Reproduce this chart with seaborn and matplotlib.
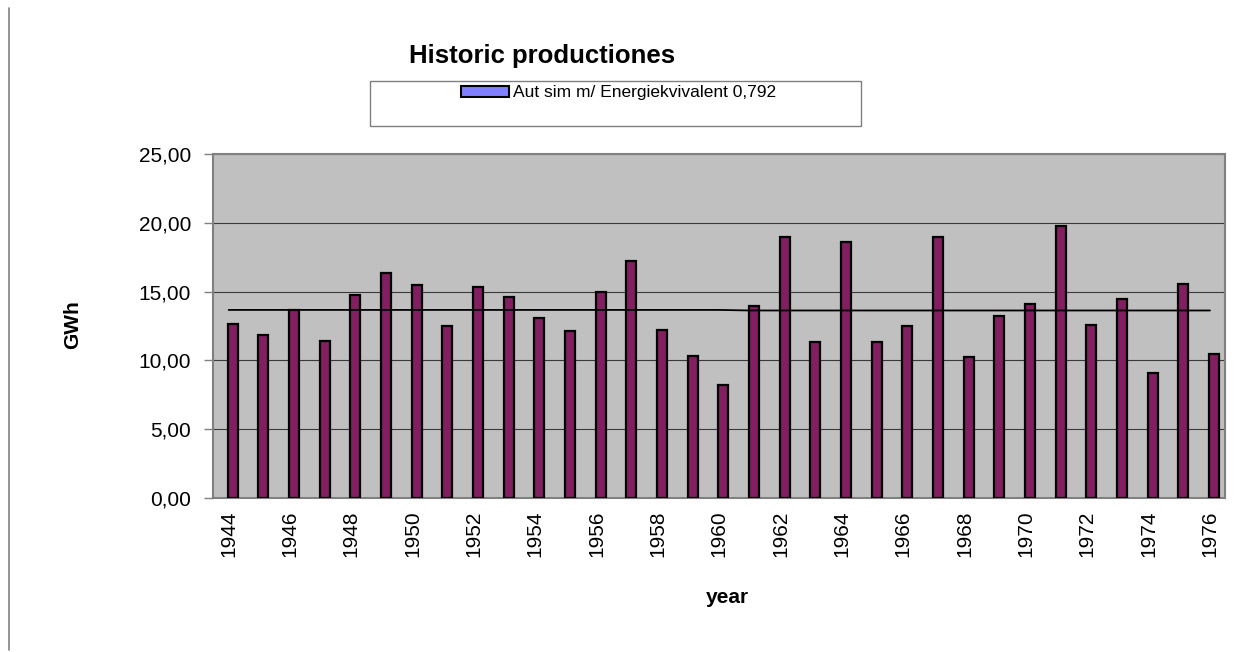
import numpy as np
import pandas as pd
import matplotlib
matplotlib.use("Agg")
import matplotlib.pyplot as plt
import matplotlib.transforms as mtransforms
from matplotlib.patches import Patch, Rectangle
from matplotlib.lines import Line2D
import seaborn as sns

# Annual production (GWh), 1944-1976
years = list(range(1944, 1977))
production = [12.68, 11.83, 13.63, 11.42, 14.76, 16.39, 15.52, 12.49, 15.32, 14.60,
              13.07, 12.10, 14.94, 17.24, 12.20, 10.28, 8.20, 13.99, 18.96, 11.32,
              18.60, 11.32, 12.49, 18.96, 10.23, 13.24, 14.07, 19.78, 12.54, 14.47,
              9.09, 15.54, 10.45]
# Average production line
average = [13.67] * 17 + [13.63] * 16
y_ticks = [0, 5, 10, 15, 20, 25]
series_name = "Aut sim m/ Energiekvivalent 0,792"

sns.set_theme(style="white")
plt.rcParams["font.family"] = ["Liberation Sans", "DejaVu Sans"]
plt.rcParams["text.color"] = "black"
plt.rcParams["axes.labelcolor"] = "black"
plt.rcParams["xtick.color"] = "black"
plt.rcParams["ytick.color"] = "black"

df = pd.DataFrame({"year": [str(y) for y in years], "GWh": production, "avg": average})

fig = plt.figure(figsize=(12.6, 6.52), dpi=100)
ax = fig.add_axes([213.3 / 1260, 1 - 497.7 / 652, 1012 / 1260, 343.4 / 652])
ax.set_facecolor("#c0c0c0")

sns.barplot(data=df, x="year", y="GWh", color="#821f60", width=0.33,
            edgecolor="black", linewidth=1.6, saturation=1, ax=ax, zorder=3)
# bars sit a little to the right of the category centre
shift = mtransforms.ScaledTranslation(4 / 100, 0, fig.dpi_scale_trans)
for p in ax.patches:
    p.set_transform(ax.transData + shift)

sns.pointplot(data=df, x="year", y="avg", color="black", markers="", linestyles="-",
              errorbar=None, ax=ax, zorder=4)
for ln in ax.lines:
    ln.set_linewidth(1.3)

ax.set_ylim(0, 25)
ax.set_xlim(-0.5, len(years) - 0.5)
ax.set_yticks(y_ticks)
ax.set_yticklabels([f"{v:.2f}".replace(".", ",") for v in y_ticks])
ax.yaxis.grid(True, color="#3a3a3a", linewidth=0.8, zorder=0)
ax.set_axisbelow(True)

idx = np.arange(0, len(years), 2)
ax.set_xticks(idx)
ax.set_xticklabels([str(years[i]) for i in idx], rotation=90)
ax.set_xticks(np.arange(-0.5, len(years), 1), minor=True)
ax.tick_params(axis="x", which="major", length=0, pad=9, labelsize=15, labelcolor="black")
ax.tick_params(axis="x", which="minor", length=6, width=1, color="#808080", direction="out")
ax.tick_params(axis="y", which="major", length=6.5, width=1, color="#808080",
               direction="out", pad=9.5, labelsize=15, left=True, labelcolor="black")
for s in ax.spines.values():
    s.set_visible(True)
    s.set_color("#808080")
    s.set_linewidth(1.5)

ax.set_xlabel("year", fontsize=15, fontweight="bold", color="black")
ax.xaxis.set_label_coords(0.5076, -0.262)
ax.set_ylabel("GWh", fontsize=15, fontweight="bold", color="black")
ax.yaxis.set_label_coords(-0.130, 0.503)

fig.text(541.7 / 1260, 1 - 63.3 / 652, "Historic productiones", ha="center",
         va="baseline", fontsize=18.5, fontweight="bold", color="black")

# legend frame
fig.patches.append(Rectangle((370 / 1260, 1 - 126 / 652), 491 / 1260, 45 / 652,
                             transform=fig.transFigure, facecolor="white",
                             edgecolor="#808080", linewidth=1))
leg = fig.legend(handles=[Patch(facecolor="#8080ff", edgecolor="black", linewidth=1.5)],
                 labels=[series_name], loc="center left",
                 bbox_to_anchor=(460.7 / 1260, 1 - 93 / 652), frameon=False,
                 fontsize=12.5, handlelength=2.8, handleheight=0.58, handletextpad=0.2,
                 borderpad=0, borderaxespad=0, labelcolor="black")

# page border at the left
fig.add_artist(Line2D([9 / 1260, 9 / 1260], [2 / 652, 1 - 8 / 652],
                      transform=fig.transFigure, color="#808080", linewidth=1.2))

fig.savefig("out.png", dpi=100)
